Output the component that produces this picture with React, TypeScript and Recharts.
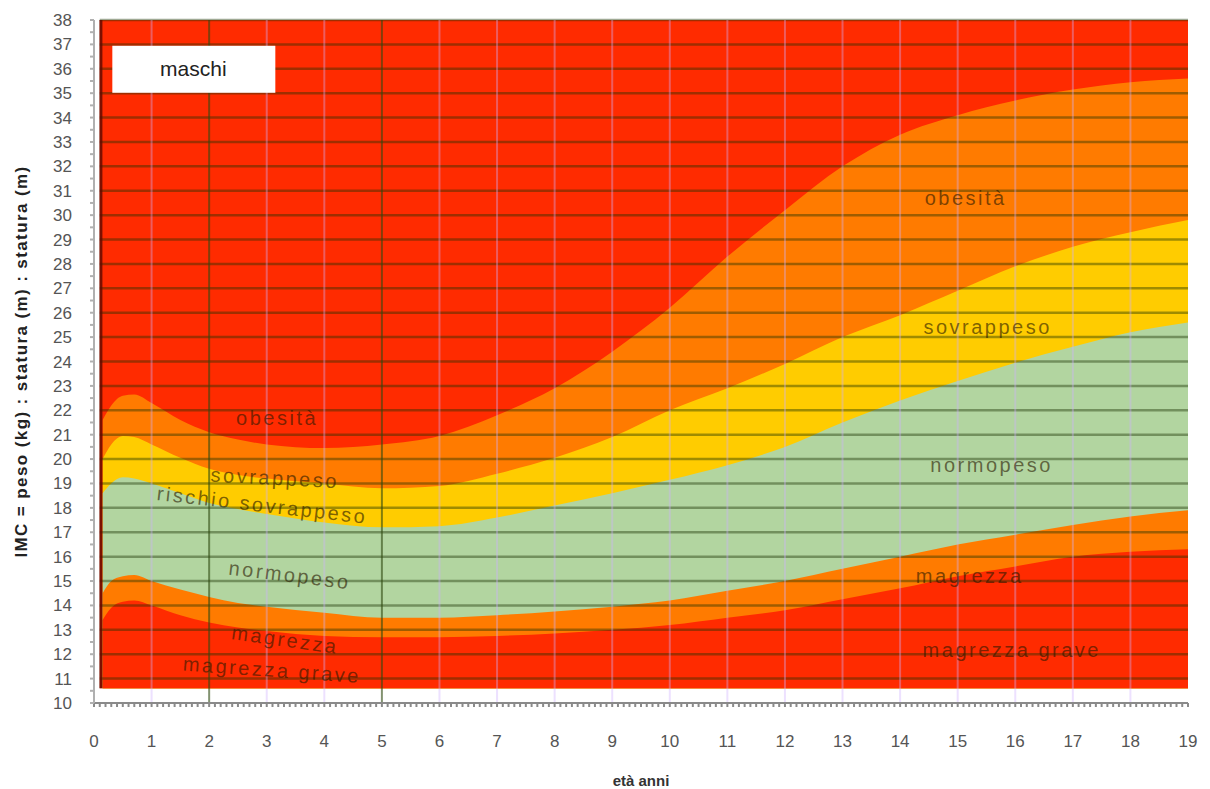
import {
  AreaChart,
  Area,
  XAxis,
  YAxis,
  CartesianGrid,
  ReferenceArea,
  ReferenceLine,
  ReferenceDot,
  Label,
} from 'recharts';

// età (anni) and the upper edge of every band
const AGES = [0.15, 0.3, 0.5, 0.7, 1, 1.5, 2, 2.5, 3, 4, 5, 6, 7, 8, 9, 10, 11, 12, 13, 14, 15, 16, 17, 18, 19];
const OBESITA_TOP = [21.6, 22.2, 22.6, 22.65, 22.3, 21.6, 21.1, 20.8, 20.6, 20.45, 20.6, 20.95, 21.8, 22.9, 24.4, 26.2, 28.3, 30.2, 32.0, 33.3, 34.1, 34.7, 35.15, 35.45, 35.6];
const SOVRAPPESO_TOP = [20.0, 20.6, 20.95, 20.9, 20.6, 20.05, 19.6, 19.35, 19.2, 19.0, 18.8, 18.9, 19.4, 20.05, 20.9, 22.0, 22.9, 23.9, 25.0, 25.9, 26.9, 27.9, 28.7, 29.3, 29.8];
const NORMOPESO_TOP = [18.6, 19.0, 19.25, 19.2, 19.0, 18.6, 18.2, 17.95, 17.75, 17.4, 17.2, 17.25, 17.6, 18.1, 18.6, 19.15, 19.75, 20.5, 21.5, 22.4, 23.2, 23.95, 24.6, 25.2, 25.6];
const MAGREZZA_TOP = [14.5, 15.0, 15.2, 15.25, 15.0, 14.65, 14.35, 14.1, 13.95, 13.7, 13.5, 13.5, 13.6, 13.75, 13.95, 14.2, 14.6, 15.0, 15.5, 16.0, 16.5, 16.9, 17.3, 17.65, 17.9];
const GRAVE_TOP = [13.4, 13.9, 14.15, 14.2, 14.0, 13.6, 13.3, 13.1, 12.95, 12.75, 12.7, 12.7, 12.75, 12.85, 13.0, 13.2, 13.5, 13.8, 14.25, 14.7, 15.2, 15.6, 16.0, 16.2, 16.3];

const X_LABELS = [0, 1, 2, 3, 4, 5, 6, 7, 8, 9, 10, 11, 12, 13, 14, 15, 16, 17, 18, 19];
const Y_LABELS = [10, 11, 12, 13, 14, 15, 16, 17, 18, 19, 20, 21, 22, 23, 24, 25, 26, 27, 28, 29, 30, 31, 32, 33, 34, 35, 36, 37, 38];
const DARK_YEARS = [2, 5];

const REGION_NAMES = ['obesità', 'sovrappeso', 'rischio sovrappeso', 'normopeso', 'magrezza', 'magrezza grave', 'obesità', 'sovrappeso', 'normopeso', 'magrezza', 'magrezza grave'];
const REGION_AGE = [3.18, 3.14, 2.92, 3.4, 3.32, 3.09, 15.14, 15.52, 15.59, 15.21, 15.94];
const REGION_BMI = [21.7, 19.23, 18.12, 15.25, 12.6, 11.36, 30.7, 25.42, 19.76, 15.21, 12.18];
const REGION_ANGLE = [0, 3, 6.5, 7, 8, 4, 0, 0, 0, 0, 0];

const BASE = 10.6;
const RED = '#ff2b00';
const ORANGE = '#ff7b00';
const YELLOW = '#ffcc00';
const GREEN = '#b2d5a0';

const data = AGES.map((age, i) => ({
  age,
  obesita: OBESITA_TOP[i],
  sovrappeso: SOVRAPPESO_TOP[i],
  normopeso: NORMOPESO_TOP[i],
  magrezza: MAGREZZA_TOP[i],
  grave: GRAVE_TOP[i],
}));

// minor ticks along the axes
const xTicks = Array.from({ length: 191 }, (_, i) => i / 10);
const yTicks = Array.from({ length: 57 }, (_, i) => 10 + i / 2);

const font = "'Liberation Sans', Arial, sans-serif";

function regionLabel(text: string, angle: number) {
  return (props: any) => {
    const vb = props.viewBox || {};
    const cx = vb.x + (vb.width || 0) / 2;
    const cy = vb.y + (vb.height || 0) / 2;
    return (
      <text
        x={cx}
        y={cy}
        textAnchor="middle"
        dominantBaseline="central"
        transform={`rotate(${angle} ${cx} ${cy})`}
        fontFamily={font}
        fontSize={20}
        letterSpacing={2.5}
        fill="#2a1a00"
        fillOpacity={0.62}
      >
        {text}
      </text>
    );
  };
}

// white title box, drawn on top of the grid lines
function titleBox(props: any) {
  const vb = props.viewBox || {};
  const cx = vb.x + (vb.width || 0) / 2;
  const cy = vb.y + (vb.height || 0) / 2;
  return (
    <g>
      <rect x={cx - 81} y={cy - 23} width={163} height={47} fill="#fff" />
      <text x={cx} y={cy} textAnchor="middle" dominantBaseline="central" fontFamily={font} fontSize={21} fill="#222">
        maschi
      </text>
    </g>
  );
}

export default function App() {
  return (
    <div style={{ position: 'absolute', left: 0, top: 0, background: '#fff' }}>
      <AreaChart width={1210} height={789} data={data} margin={{ top: 20, right: 22, bottom: 0, left: 0 }}>
        <CartesianGrid fill={RED} horizontal={false} vertical={false} />
        <XAxis
          type="number"
          dataKey="age"
          domain={[0, 19]}
          ticks={xTicks}
          interval={0}
          tickFormatter={(v: number) => (X_LABELS.includes(v) ? String(v) : '')}
          height={86}
          tickSize={4}
          tickMargin={28}
          stroke="#8a8a8a"
          strokeWidth={2}
          tick={{ fill: '#555', fontSize: 17, fontFamily: font }}
        >
          <Label value="età anni" position="insideBottom" offset={3} fill="#333" fontSize={15} fontWeight="bold" fontFamily={font} />
        </XAxis>
        <YAxis
          type="number"
          domain={[10, 38]}
          ticks={yTicks}
          interval={0}
          tickFormatter={(v: number) => (Y_LABELS.includes(v) ? String(v) : '')}
          width={94}
          tickSize={4}
          tickMargin={18}
          stroke="#b0b0b0"
          strokeWidth={2}
          tick={{ fill: '#555', fontSize: 17, fontFamily: font }}
        >
          <Label
            value="IMC = peso (kg) : statura (m) : statura (m)"
            angle={-90}
            position="insideLeft"
            offset={21}
            fill="#222"
            fontSize={17}
            fontWeight="bold"
            fontFamily={font}
            letterSpacing={1.4}
            style={{ textAnchor: 'middle' }}
          />
        </YAxis>

        <ReferenceArea x1={0} x2={19} y1={10} y2={BASE} fill="#fff" fillOpacity={1} stroke="none" />
        <ReferenceArea x1={0} x2={0.1} y1={10} y2={38} fill="#fff" fillOpacity={1} stroke="none" />

        <Area type="monotone" dataKey="obesita" baseValue={BASE} fill={ORANGE} fillOpacity={1} stroke="none" isAnimationActive={false} />
        <Area type="monotone" dataKey="sovrappeso" baseValue={BASE} fill={YELLOW} fillOpacity={1} stroke="none" isAnimationActive={false} />
        <Area type="monotone" dataKey="normopeso" baseValue={BASE} fill={GREEN} fillOpacity={1} stroke="none" isAnimationActive={false} />
        <Area type="monotone" dataKey="magrezza" baseValue={BASE} fill={ORANGE} fillOpacity={1} stroke="none" isAnimationActive={false} />
        <Area type="monotone" dataKey="grave" baseValue={BASE} fill={RED} fillOpacity={1} stroke="none" isAnimationActive={false} />

        {Y_LABELS.filter((v) => v > 10).map((v) => (
          <ReferenceLine
            key={`h${v}`}
            segment={[{ x: 0.1, y: v }, { x: 19, y: v }]}
            stroke="#1a3300"
            strokeOpacity={0.42}
            strokeWidth={2.5}
          />
        ))}
        {X_LABELS.filter((v) => v > 0 && v < 19).map((v) => (
          <ReferenceLine
            key={`v${v}`}
            segment={[{ x: v, y: 10 }, { x: v, y: 38 }]}
            stroke={DARK_YEARS.includes(v) ? '#2f4a10' : '#d0b0ff'}
            strokeOpacity={DARK_YEARS.includes(v) ? 0.6 : 0.38}
            strokeWidth={2}
          />
        ))}
        <ReferenceLine segment={[{ x: 0.12, y: BASE }, { x: 0.12, y: 38 }]} stroke="#5a0a00" strokeOpacity={0.8} strokeWidth={3} />

        <ReferenceDot x={1.725} y={36.0} r={1} fill="none" stroke="none" label={titleBox} />

        {REGION_NAMES.map((name, i) => (
          <ReferenceDot
            key={`r${i}`}
            x={REGION_AGE[i]}
            y={REGION_BMI[i]}
            r={1}
            fill="none"
            stroke="none"
            label={regionLabel(name, REGION_ANGLE[i])}
          />
        ))}
      </AreaChart>
    </div>
  );
}
